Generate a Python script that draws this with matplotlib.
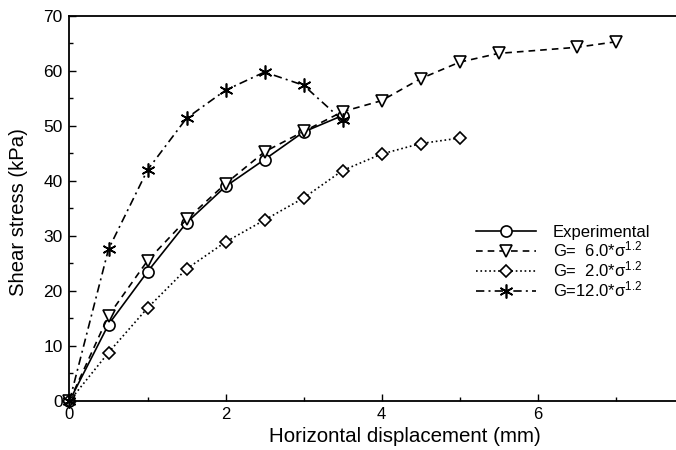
import matplotlib
matplotlib.use("Agg")
import matplotlib.pyplot as plt
from matplotlib.ticker import MultipleLocator

plt.rcParams["font.family"] = ["Liberation Sans", "DejaVu Sans"]
plt.rcParams["mathtext.fontset"] = "custom"
plt.rcParams["mathtext.rm"] = "Liberation Sans"
plt.rcParams["mathtext.it"] = "Liberation Sans:italic"

# horizontal displacement (mm)
disp_exp = [0, 0.5, 1.0, 1.5, 2.0, 2.5, 3.0, 3.5]
disp_g6 = [0, 0.5, 1.0, 1.5, 2.0, 2.5, 3.0, 3.5, 4.0, 4.5, 5.0, 5.5, 6.5, 7.0]
disp_g2 = [0, 0.5, 1.0, 1.5, 2.0, 2.5, 3.0, 3.5, 4.0, 4.5, 5.0]
disp_g12 = [0, 0.5, 1.0, 1.5, 2.0, 2.5, 3.0, 3.5]

# shear stress (kPa)
tau_exp = [0, 13.9, 23.5, 32.4, 39.0, 43.9, 48.9, 51.9]
tau_g6 = [0, 15.5, 25.5, 33.0, 39.5, 45.3, 49.0, 52.6, 54.6, 58.6, 61.6, 63.2, 64.3, 65.3]
tau_g2 = [0, 8.8, 16.9, 24.0, 28.9, 32.9, 36.9, 41.9, 44.9, 46.8, 47.8]
tau_g12 = [0, 27.6, 42.0, 51.4, 56.5, 59.8, 57.4, 51.0]

x_ticks = [0, 2, 4, 6]
x_minor = [1, 3, 5, 7]

labels = ["Experimental",
          r"G=  6.0*σ$^{1.2}$",
          r"G=  2.0*σ$^{1.2}$",
          r"G=12.0*σ$^{1.2}$"]

fig = plt.figure(figsize=(6.76, 4.5), dpi=100)
# axes runs on past the right edge of the figure
ax = fig.add_axes([0.1028, 0.109, 0.981, 0.8555])

asterisk = (6, 2, 0)
common = dict(color="black", lw=1.2, mfc="white", mec="black", mew=1.2, clip_on=False)
ax.plot(disp_exp, tau_exp, "-", marker="o", ms=8, label=labels[0], **common)
ax.plot(disp_g6, tau_g6, "--", marker="v", ms=9, label=labels[1], dashes=(4, 3), **common)
ax.plot(disp_g2, tau_g2, ":", marker="D", ms=6.5, label=labels[2], **common)
ax.plot(disp_g12, tau_g12, "-.", marker=asterisk, ms=10, label=labels[3],
        dashes=(5, 2.5, 1.2, 2.5), **common)

ax.set_xlim(0, 8.5)
ax.set_ylim(0, 70)
ax.set_xticks(x_ticks)
ax.set_xticks(x_minor, minor=True)
ax.yaxis.set_major_locator(MultipleLocator(10))
ax.yaxis.set_minor_locator(MultipleLocator(5))
ax.tick_params(which="both", direction="in", top=False, right=False, width=1)
ax.tick_params(which="major", length=5, labelsize=12.5)
ax.tick_params(axis="x", labelsize=12)
ax.tick_params(which="minor", length=3)
ax.tick_params(axis="x", pad=4.5)
ax.tick_params(axis="y", pad=5)

for side in ["left", "top", "bottom"]:
    ax.spines[side].set_linewidth(1.3)
ax.spines["right"].set_visible(False)

ax.set_xlabel("Horizontal displacement (mm)", fontsize=14.8)
ax.set_ylabel("Shear stress (kPa)", fontsize=14.6)
ax.xaxis.set_label_coords(0.505, -0.067)
ax.yaxis.set_label_coords(-0.062, 0.49)

ax.legend(loc="upper left", bbox_to_anchor=(0.603, 0.475), frameon=False,
          fontsize=12, numpoints=1, handlelength=3.6, handletextpad=1.0,
          labelspacing=0.0, borderaxespad=0)

fig.savefig("out.png", dpi=100)
